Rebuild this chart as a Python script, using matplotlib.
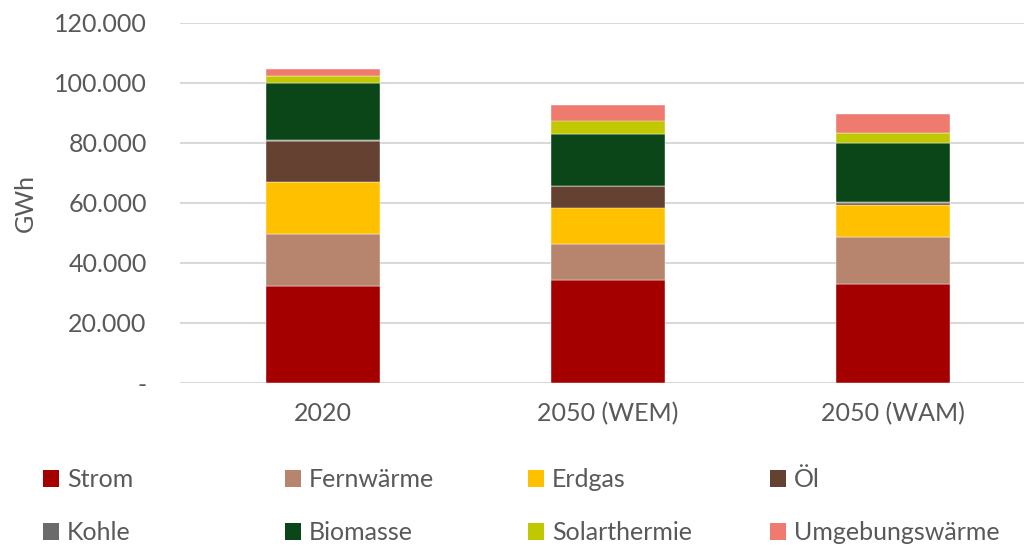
import matplotlib
matplotlib.use('Agg')
import matplotlib.pyplot as plt
import numpy as np
from matplotlib.ticker import FuncFormatter

# Data (GWh)
scenarios = ['2020', '2050 (WEM)', '2050 (WAM)']
sources = ['Strom', 'Fernwärme', 'Erdgas', 'Öl',
           'Kohle', 'Biomasse', 'Solarthermie', 'Umgebungswärme']

strom = [32500, 34200, 33100]
fernwaerme = [17200, 12000, 15600]
erdgas = [17200, 12300, 10700]
oel = [13900, 7100, 600]
kohle = [200, 200, 300]
biomasse = [19100, 17300, 19600]
solarthermie = [2200, 4400, 3300]
umgebungswaerme = [2400, 5300, 6300]

colors = ['#A50000', '#B7846E', '#FFC000', '#654132',
          '#6B6B6B', '#0B4619', '#BFC800', '#EE7B6E']

series = [strom, fernwaerme, erdgas, oel, kohle, biomasse, solarthermie, umgebungswaerme]

plt.rcParams['font.family'] = ['Lato', 'DejaVu Sans']
text_color = '#595959'
fs = 18

fig = plt.figure(figsize=(10.24, 5.46), dpi=100)
ax = fig.add_axes([180 / 1024, 1 - 383 / 546, 855.5 / 1024, 360 / 546])

x = np.arange(len(scenarios))
bottom = np.zeros(len(scenarios))
handles = []
for name, vals, col in zip(sources, series, colors):
    b = ax.bar(x, vals, width=0.4, bottom=bottom, color=col, label=name,
               edgecolor='white', linewidth=0.3, zorder=3)
    handles.append(b)
    bottom += np.array(vals)

ax.set_xlim(-0.5, 2.5)
ax.set_ylim(0, 120000)
ax.set_yticks(np.arange(0, 120001, 20000))


def fmt(v, pos):
    if v == 0:
        return '-'
    return f'{int(v):,}'.replace(',', '.')


ax.yaxis.set_major_formatter(FuncFormatter(fmt))
ax.set_xticks(x)
ax.set_xticklabels(scenarios)
ax.tick_params(axis='both', length=0, labelsize=fs, colors=text_color)
ax.tick_params(axis='y', pad=24)
ax.tick_params(axis='x', pad=14)
ax.grid(axis='y', color='#D9D9D9', linewidth=1.5, zorder=0)
for s in ax.spines.values():
    s.set_visible(False)
ax.set_ylabel('GWh', fontsize=fs, color=text_color, labelpad=12)

# legend: four columns, two rows
col_x = [43, 285, 528, 770]
for i, cx in enumerate(col_x):
    h = [handles[i], handles[i + 4]]
    lab = [sources[i], sources[i + 4]]
    leg = fig.legend(h, lab, loc='center left',
                     bbox_to_anchor=(cx / 1024, 1 - 506 / 546),
                     frameon=False, fontsize=fs, borderpad=0, borderaxespad=0,
                     handlelength=0.65, handleheight=0.65, handletextpad=0.3,
                     labelspacing=1.2)
    for t in leg.get_texts():
        t.set_color(text_color)
    for p in leg.get_patches():
        p.set_edgecolor('none')

fig.savefig('out.png', dpi=100)
